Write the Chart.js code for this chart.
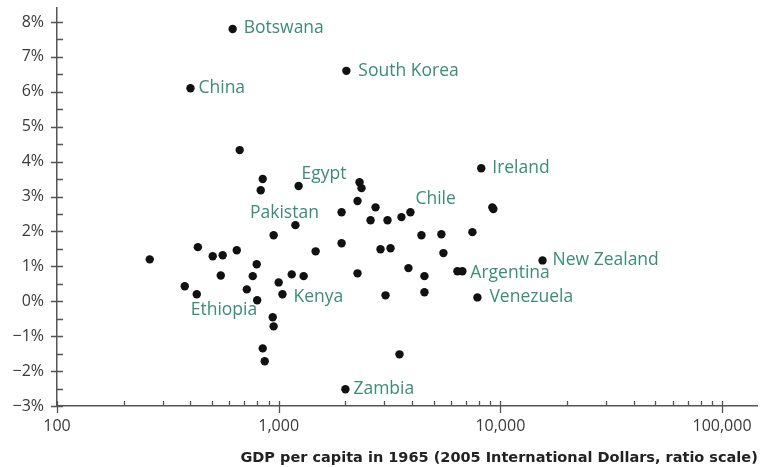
<!DOCTYPE html>
<html>
<head>
<meta charset="utf-8">
<script src="https://cdn.jsdelivr.net/npm/chart.js@4/dist/chart.umd.min.js"></script>
<style>
  html, body { margin: 0; padding: 0; background: #fff; }
  #wrap { width: 762px; height: 467px; position: relative; }
</style>
</head>
<body>
<div id="wrap"><canvas id="growthChart"></canvas></div>
<script>
// Labelled countries: GDP per capita 1965 (2005 intl $) and growth rate (%)
const labeledNames = ["Botswana", "South Korea", "China", "Egypt", "Pakistan", "Chile",
  "Ireland", "Kenya", "Ethiopia", "Argentina", "New Zealand", "Venezuela", "Zambia"];
const labeledGdp = [620, 2020, 400, 1230, 1190, 3930, 8200, 1040, 800, 6740, 15500, 7880, 2000];
const labeledGrowth = [7.8, 6.6, 6.1, 3.3, 2.18, 2.55, 3.81, 0.2, 0.03, 0.86, 1.17, 0.11, -2.52];

// Other countries
const otherGdp = [667, 847, 830, 949, 432, 262, 504, 559, 647, 1468, 796, 548, 764, 1145,
  1296, 1000, 377, 427, 718, 940, 949, 847, 865, 2316, 2364, 2268, 1922, 2735, 2597,
  3097, 3580, 9200, 9300, 1922, 4406, 5420, 7480, 2880, 3196, 5536, 2268, 3850, 4545,
  6400, 3034, 4545, 3508];
const otherGrowth = [4.33, 3.5, 3.18, 1.89, 1.55, 1.2, 1.29, 1.32, 1.46, 1.43, 1.06, 0.74,
  0.72, 0.77, 0.72, 0.54, 0.43, 0.2, 0.34, -0.46, -0.72, -1.35, -1.72, 3.41, 3.24, 2.87,
  2.55, 2.69, 2.32, 2.32, 2.41, 2.69, 2.64, 1.66, 1.89, 1.92, 1.98, 1.49, 1.52, 1.38,
  0.8, 0.95, 0.72, 0.86, 0.17, 0.26, -1.52];

// Axis ticks
const xTicks = [100, 1000, 10000, 100000];
const xMinorTicks = [200, 300, 400, 500, 600, 700, 800, 900,
  2000, 3000, 4000, 5000, 6000, 7000, 8000, 9000,
  20000, 30000, 40000, 50000, 60000, 70000, 80000, 90000];
const yTicks = [-3, -2, -1, 0, 1, 2, 3, 4, 5, 6, 7, 8];
const yMinorTicks = [-2.5, -1.5, -0.5, 0.5, 1.5, 2.5, 3.5, 4.5, 5.5, 6.5, 7.5];

const TEAL = "#3b8c79";
const AXIS = "#555";
const FONT = "'Open Sans', 'Noto Sans', sans-serif";

// where each country name sits relative to its dot
const labelPlacement = {
  "Botswana": { dx: 11, dy: -1, align: "left" },
  "South Korea": { dx: 12, dy: 0, align: "left" },
  "China": { dx: 8, dy: 0, align: "left" },
  "Egypt": { dx: 3, dy: -12, align: "left" },
  "Pakistan": { dx: -11, dy: -12, align: "center" },
  "Chile": { dx: 5, dy: -13, align: "left" },
  "Ireland": { dx: 11, dy: 0, align: "left" },
  "Kenya": { dx: 11, dy: 3, align: "left" },
  "Ethiopia": { dx: 0, dy: 10, align: "right" },
  "Argentina": { dx: 8, dy: 2, align: "left" },
  "New Zealand": { dx: 10, dy: 0, align: "left" },
  "Venezuela": { dx: 12, dy: 0, align: "left" },
  "Zambia": { dx: 8, dy: 0, align: "left" },
};

const countryLabels = {
  id: "countryLabels",
  afterDatasetsDraw(chart) {
    const ctx = chart.ctx;
    const meta = chart.getDatasetMeta(0);
    ctx.save();
    ctx.font = "17.5px " + FONT;
    ctx.fillStyle = TEAL;
    ctx.textBaseline = "middle";
    meta.data.forEach((pt, i) => {
      const name = labeledNames[i];
      const p = labelPlacement[name];
      ctx.textAlign = p.align;
      ctx.fillText(name, pt.x + p.dx, pt.y + p.dy);
    });
    ctx.restore();
  },
};

const tickMarks = {
  id: "tickMarks",
  afterDraw(chart) {
    const ctx = chart.ctx;
    const x = chart.scales.x;
    const y = chart.scales.y;
    const area = chart.chartArea;
    ctx.save();
    ctx.strokeStyle = AXIS;
    ctx.lineWidth = 1.3;
    ctx.beginPath();
    yTicks.forEach((v) => {
      const py = Math.round(y.getPixelForValue(v)) + 0.5;
      ctx.moveTo(area.left - 6, py);
      ctx.lineTo(area.left + 6, py);
    });
    yMinorTicks.forEach((v) => {
      const py = Math.round(y.getPixelForValue(v)) + 0.5;
      ctx.moveTo(area.left, py);
      ctx.lineTo(area.left + 6, py);
    });
    xTicks.forEach((v) => {
      const px = Math.round(x.getPixelForValue(v)) + 0.5;
      ctx.moveTo(px, area.bottom - 5);
      ctx.lineTo(px, area.bottom + 7);
    });
    xMinorTicks.forEach((v) => {
      const px = Math.round(x.getPixelForValue(v)) + 0.5;
      ctx.moveTo(px, area.bottom - 5);
      ctx.lineTo(px, area.bottom);
    });
    ctx.stroke();
    ctx.restore();
  },
};

function toPoints(xs, ys) {
  return xs.map((v, i) => ({ x: v, y: ys[i] }));
}

new Chart(document.getElementById("growthChart"), {
  type: "scatter",
  data: {
    datasets: [
      {
        label: "Labelled",
        data: toPoints(labeledGdp, labeledGrowth),
        backgroundColor: "#111",
        borderWidth: 0,
        pointRadius: 4.2,
      },
      {
        label: "Other",
        data: toPoints(otherGdp, otherGrowth),
        backgroundColor: "#111",
        borderWidth: 0,
        pointRadius: 4.2,
      },
    ],
  },
  options: {
    responsive: true,
    maintainAspectRatio: false,
    animation: false,
    layout: { padding: { top: 8, right: 0, left: 0, bottom: 0 } },
    plugins: {
      legend: { display: false },
      tooltip: { enabled: false },
    },
    scales: {
      x: {
        type: "logarithmic",
        min: 100,
        max: 145000,
        afterBuildTicks: (scale) => {
          scale.ticks = xTicks.map((v) => ({ value: v }));
        },
        afterFit: (scale) => {
          scale.height = 61;
          scale.paddingLeft = 0;
          scale.paddingRight = 0;
        },
        grid: { display: false, drawTicks: false },
        border: { display: true, color: AXIS, width: 1.5 },
        ticks: {
          color: "#3a3a3a",
          font: { family: FONT, size: 16 },
          padding: 11,
          maxRotation: 0,
          autoSkip: false,
          callback: (v) => Number(v).toLocaleString("en-US"),
        },
        title: {
          display: true,
          text: "GDP per capita in 1965 (2005 International Dollars, ratio scale)",
          align: "end",
          color: "#222",
          font: { family: "'DejaVu Sans', sans-serif", size: 14.5, weight: "bold" },
          padding: { top: 5, bottom: 0 },
        },
      },
      y: {
        min: -3,
        max: 8.4,
        afterBuildTicks: (scale) => {
          scale.ticks = yTicks.map((v) => ({ value: v }));
        },
        afterFit: (scale) => {
          scale.width = 57;
          scale.paddingTop = 0;
          scale.paddingBottom = 0;
        },
        grid: { display: false, drawTicks: false },
        border: { display: true, color: AXIS, width: 1.5 },
        ticks: {
          color: "#3a3a3a",
          font: { family: FONT, size: 16 },
          padding: 13,
          callback: (v) => (v < 0 ? "\u2212" + Math.abs(v) : v) + "%",
        },
      },
    },
  },
  plugins: [countryLabels, tickMarks],
});
</script>
</body>
</html>
